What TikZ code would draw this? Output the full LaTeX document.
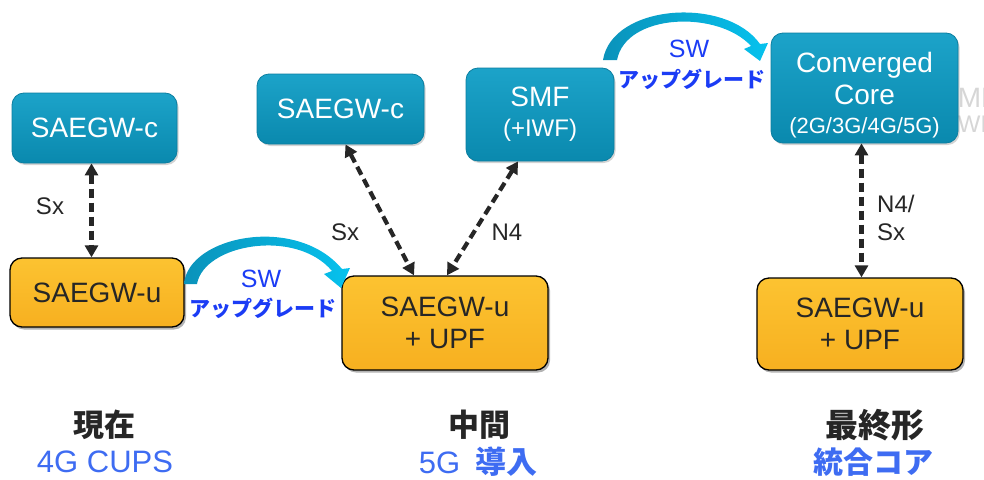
\documentclass[tikz,border=0pt]{standalone}
\usepackage{fontspec}
\setmainfont{Liberation Sans}
\newfontfamily\jp{Noto Sans CJK JP}
\usetikzlibrary{arrows.meta,shadows,calc}

\definecolor{blueedge}{HTML}{0B7EA0}
\definecolor{bluetop}{HTML}{1CA3C9}
\definecolor{bluebot}{HTML}{0A89AE}
\definecolor{orangetop}{HTML}{FCC331}
\definecolor{orangebot}{HTML}{F7B020}
\definecolor{darktext}{HTML}{262626}
\definecolor{swblue}{HTML}{1B3CF5}
\definecolor{phaseblue}{HTML}{3E6CF2}
\definecolor{arcstart}{HTML}{0A92BA}
\definecolor{arcend}{HTML}{06C2EE}

\tikzset{
  nodefont/.style={font=\fontsize{28}{32}\selectfont},
  bluebox/.style={nodefont, rounded corners=12pt, draw=blueedge, line width=0.8pt,
    top color=bluetop, bottom color=bluebot, text=white, inner sep=0pt, align=center,
    drop shadow={shadow xshift=1.5pt, shadow yshift=-2pt, opacity=.35}},
  orangebox/.style={nodefont, rounded corners=12pt, draw=black, line width=1.3pt,
    top color=orangetop, bottom color=orangebot, text=darktext, inner sep=0pt, align=center,
    drop shadow={shadow xshift=2pt, shadow yshift=-2.5pt, opacity=.6}},
  iface/.style={draw=darktext, line width=4.2pt, dash pattern=on 9pt off 5pt,
    {Triangle[length=12pt,width=13pt]}-{Triangle[length=12pt,width=13pt]}},
  iflabel/.style={font=\fontsize{24}{28}\selectfont, text=darktext, inner sep=0pt, align=left},
  swlabel/.style={font=\fontsize{25}{28}\selectfont, text=swblue, inner sep=0pt},
  swjp/.style={font=\jp\bfseries\fontsize{21}{24}\selectfont, text=swblue, inner sep=0pt},
  phase/.style={font=\jp\bfseries\fontsize{31}{33}\selectfont, text=darktext, inner sep=0pt},
  phasesub/.style={font=\fontsize{31}{34}\selectfont, text=phaseblue, inner sep=0pt},
  ghost/.style={font=\fontsize{28}{32}\selectfont, text=black!16, inner sep=0pt, anchor=west}
}

\begin{document}
\begin{tikzpicture}[x=1pt,y=-1pt]
\useasboundingbox (0,0) rectangle (984,479);
\clip (0,0) rectangle (984,479);

% faint text left behind the converged core box
\node[ghost] (ghostsmf) at (939,98) {SMF};
\node[ghost, font=\fontsize{24}{28}\selectfont] (ghostiwf) at (929,126) {(+IWF)};

% present: 4G CUPS
\node[bluebox, minimum width=165pt, minimum height=70pt] (c1) at (94.5,128) {SAEGW-c};
\node[orangebox, minimum width=174pt, minimum height=69pt] (u1) at (97,292.5) {SAEGW-u};

% intermediate: 5G introduction
\node[bluebox, minimum width=167pt, minimum height=70pt] (c2) at (340.5,109) {SAEGW-c};
\node[bluebox, minimum width=148pt, minimum height=93pt] (smf) at (540,114.5)
  {SMF\\[-2pt]{\fontsize{24}{28}\selectfont(+IWF)}};
\node[orangebox, minimum width=206pt, minimum height=94pt] (u2) at (445,323) {SAEGW-u\\+ UPF};

% final: converged core
\node[bluebox, minimum width=187pt, minimum height=110pt] (cc) at (864.5,88) {};
\node[nodefont, text=white, align=center, inner sep=0pt] (cctext) at (864.5,95)
  {Converged\\Core\\[-3pt]{\fontsize{22}{26}\selectfont(2G/3G/4G/5G)}};
\node[orangebox, minimum width=206pt, minimum height=92pt] (u3) at (860,324) {SAEGW-u\\+ UPF};

% control/user plane interfaces
\coordinate (sxtop) at ($(c1.south)+(-3,0)$);
\coordinate (sxbot) at (sxtop |- u1.north);
\coordinate (n4top) at ($(cc.south)+(-3,0)$);
\coordinate (n4bot) at (n4top |- u3.north);
\draw[iface] (sxtop) -- (sxbot);
\draw[iface] ($(c2.south)+(5,0)$) -- ($(u2.north)+(-31,0)$);
\draw[iface] ($(smf.south)+(-22,0)$) -- ($(u2.north)+(2,0)$);
\draw[iface] (n4top) -- (n4bot);

\node[iflabel] (lsx1) at (50,206) {Sx};
\node[iflabel] (lsx2) at (345,232) {Sx};
\node[iflabel] (ln4) at (507,232) {N4};
\node[iflabel, anchor=west] (ln4sx) at (877,218) {N4/\\Sx};

% software upgrade arcs
\shade[left color=arcstart, right color=arcend]
  (184,284) .. controls (188,236) and (296,214) .. (342,269)
  -- (350,268) -- (341,288) -- (324,274) -- (332,271)
  .. controls (296,228) and (204,244) .. (197,284) -- cycle;
\shade[left color=arcstart, right color=arcend]
  (603,60) .. controls (612,4) and (726,-4) .. (760,44)
  -- (768,43) -- (760,61) -- (744,49) -- (751,46)
  .. controls (718,10) and (626,13) .. (617,60) -- cycle;

\node[swlabel] (sw1) at (261,279) {SW};
\node[swjp] (up1) at (263,308) {アップグレード};
\node[swlabel] (sw2) at (689,49) {SW};
\node[swjp] (up2) at (692,79) {アップグレード};

% phase captions
\node[phase] (p1) at (104,425) {現在};
\node[phasesub] (s1) at (105,462) {4G CUPS};
\node[phase] (p2) at (479,425) {中間};
\node[phasesub] (s2) at (478,462) {5G\hspace{15pt}{\jp\bfseries 導入}};
\node[phase, font=\jp\bfseries\fontsize{33}{35}\selectfont] (p3) at (875,425) {最終形};
\node[phasesub, font=\jp\bfseries\fontsize{30}{32}\selectfont] (s3) at (873,462) {統合コア};
\end{tikzpicture}
\end{document}
